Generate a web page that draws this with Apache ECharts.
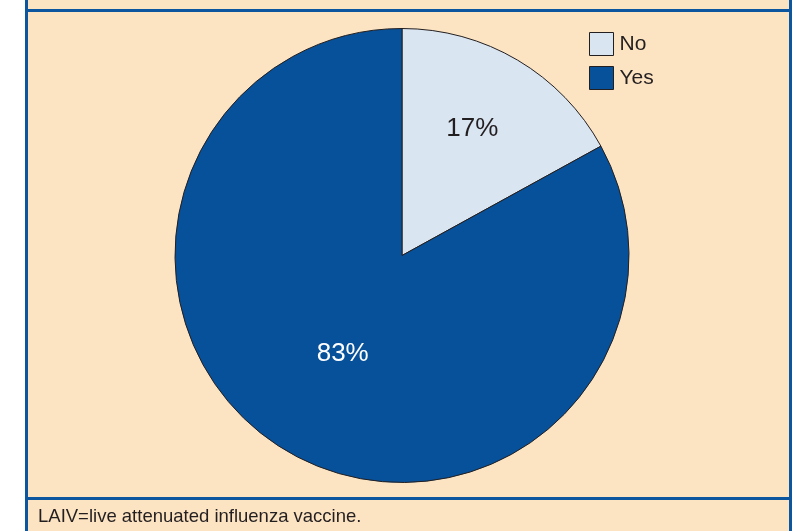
<!DOCTYPE html>
<html>
<head>
<meta charset="utf-8">
<script src="https://cdn.jsdelivr.net/npm/echarts@6/dist/echarts.min.js"></script>
<style>
  html, body { margin: 0; padding: 0; background: #ffffff; }
  #chart { width: 792px; height: 531px; }
</style>
</head>
<body>
<div id="chart"></div>
<script>
// data
var categories = ['No', 'Yes'];
var values = [17, 83];
var sliceColors = ['#dae5f2', '#07519b'];
var labelColors = ['#231f20', '#ffffff'];
var footnote = 'LAIV=live attenuated influenza vaccine.';

var beige = '#fce3c2';
var blue = '#0c569f';
var font = '"Liberation Sans", Arial, sans-serif';

var myChart = echarts.init(document.getElementById('chart'));

var option = {
  animation: false,
  backgroundColor: '#ffffff',
  graphic: [
    // panel background
    { type: 'rect', z: -10, shape: { x: 26, y: 0, width: 766, height: 531 }, style: { fill: beige } },
    // borders
    { type: 'rect', z: -5, shape: { x: 25, y: 0, width: 3, height: 531 }, style: { fill: blue } },
    { type: 'rect', z: -5, shape: { x: 789, y: 0, width: 3, height: 531 }, style: { fill: blue } },
    { type: 'rect', z: -5, shape: { x: 25, y: 9, width: 767, height: 3 }, style: { fill: blue } },
    { type: 'rect', z: -5, shape: { x: 25, y: 497, width: 767, height: 3 }, style: { fill: blue } },
    {
      type: 'text', left: 38, top: 507,
      style: { text: footnote, fill: '#231f20', font: '18.5px ' + font }
    }
  ],
  legend: {
    orient: 'vertical',
    left: 589,
    top: 32,
    padding: 0,
    itemWidth: 24,
    itemHeight: 23,
    itemGap: 10,
    icon: 'rect',
    data: categories,
    itemStyle: { borderColor: '#231f20', borderWidth: 1 },
    textStyle: { color: '#231f20', fontSize: 21, fontFamily: font, padding: [0, 0, 0, 1] }
  },
  series: [
    {
      type: 'pie',
      center: [402, 255.5],
      radius: [0, 227],
      startAngle: 90,
      clockwise: true,
      silent: true,
      itemStyle: { borderColor: '#231f20', borderWidth: 1 },
      label: {
        show: true,
        position: 'inside',
        fontSize: 26,
        fontFamily: font,
        formatter: '{c}%'
      },
      labelLine: { show: false },
      labelLayout: function (params) {
        if (params.dataIndex === 0) {
          return { dx: 11, dy: -26 };
        }
        return { dx: 0, dy: -2 };
      },
      data: categories.map(function (name, i) {
        return {
          name: name,
          value: values[i],
          itemStyle: { color: sliceColors[i] },
          label: { color: labelColors[i] }
        };
      })
    }
  ]
};

myChart.setOption(option, true);
</script>
</body>
</html>
